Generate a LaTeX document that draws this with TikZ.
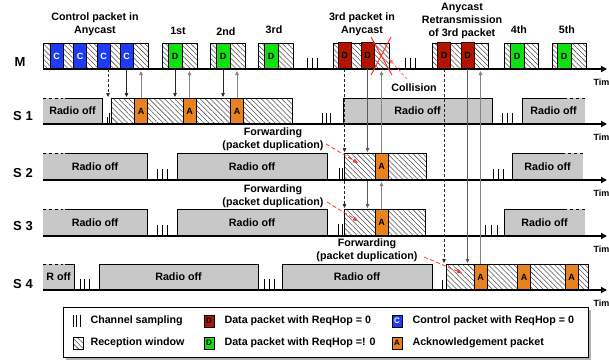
\documentclass[tikz,border=0pt]{standalone}
\usepackage{fontspec}
\setmainfont{Liberation Sans}
\usetikzlibrary{patterns.meta,arrows.meta}
\definecolor{offg}{HTML}{C8C8C8}
\definecolor{cblue}{HTML}{1E3CF5}
\definecolor{dgreen}{HTML}{12E012}
\definecolor{dred}{HTML}{B01500}
\definecolor{aorange}{HTML}{E8821E}
\definecolor{hatchc}{HTML}{505050}
\definecolor{upg}{HTML}{858585}
\definecolor{dngc}{HTML}{5A5A5A}
\definecolor{xred}{HTML}{FF3322}
\newcommand\offbox[6]{%
  \fill[offg] (#2,#4) rectangle (#3,#5);
  \draw[boxline] (#2,#5) -- (#2,#4) -- (#3,#4) -- (#3,#5);
  \node (#1) at ({(#2+#3)/2},{(#4+#5)/2}) {#6};}
\newcommand\offboxL[6]{%
  \fill[offg] (#2,#4) rectangle (#3,#5);
  \draw[boxline,dash pattern=on 3pt off 3pt] (#2,#4) -- (#2+20,#4);
  \draw[boxline] (#2+22,#4) -- (#3,#4) -- (#3,#5);
  \node (#1) at ({(#2+#3)/2},{(#4+#5)/2}) {#6};}
\newcommand\offboxR[6]{%
  \fill[offg] (#2,#4) rectangle (#3,#5);
  \draw[boxline] (#2,#5) -- (#2,#4) -- (#3-18,#4);
  \draw[boxline,dash pattern=on 3pt off 3pt] (#3-15,#4) -- (#3,#4);
  \node (#1) at ({(#2+#3)/2},{(#4+#5)/2}) {#6};}
\newcommand\chs[3]{\foreach \xx in {#1} {\draw[tk] (\xx,#2) -- (\xx,#3);}}
\begin{document}
\begin{tikzpicture}[x=1pt,y=-1pt,
  font=\bfseries\fontsize{10.7}{13}\selectfont,
  hatch/.style={draw=black, line width=0.6pt, pattern={Lines[angle=-45,distance=3.6pt,line width=0.55pt]}, pattern color=hatchc},
  boxline/.style={line width=0.7pt},
  base/.style={line width=1.6pt,-{Triangle[open,length=6pt,width=6pt]}},
  tk/.style={line width=0.7pt},
  pkt/.style={draw, line width=0.5pt, inner sep=0pt, outer sep=0pt, minimum height=26pt, font=\bfseries\fontsize{9}{9}\selectfont},
  cpk/.style={pkt, fill=cblue, text=white, minimum width=13pt},
  gpk/.style={pkt, fill=dgreen, minimum width=14pt},
  rpk/.style={pkt, fill=dred, draw=black!75!red, line width=1pt, minimum width=13pt, minimum height=27pt},
  apk/.style={pkt, fill=aorange, minimum width=13pt},
  blk/.style={line width=0.7pt,black!85,-{Triangle[length=4pt,width=3.5pt]}},
  dsh/.style={blk, dash pattern=on 3pt off 2pt},
  dnarr/.style={line width=0.8pt, dngc, -{Triangle[length=4pt,width=3.5pt]}},
  gry/.style={line width=0.8pt, upg, -{Triangle[length=4pt,width=3.5pt]}},
  fwd/.style={line width=0.8pt, xred, dash pattern=on 4pt off 2.5pt, -{Triangle[length=5pt,width=4pt]}},
  rowl/.style={font=\bfseries\fontsize{13}{14}\selectfont},
  timel/.style={anchor=west, font=\bfseries\fontsize{9}{10}\selectfont},
  icon/.style={draw, line width=0.5pt, inner sep=0pt, minimum width=10pt, minimum height=12pt, font=\bfseries\fontsize{8}{8}\selectfont},
]
\useasboundingbox (0,0) rectangle (609,362);

% ---------- row tops / bottoms as coordinates
\coordinate (mb) at (0,71);
\coordinate (s1t) at (0,97);
\coordinate (s2t) at (0,152);
\coordinate (s2b) at (0,182);
\coordinate (s3t) at (0,208);
\coordinate (s4t) at (0,263);

% ---------- labels above M
\node[align=center] (lctl) at (95,24.5) {Control packet in\\Anycast};
\node (l1st) at (178,31) {1st};
\node (l2nd) at (226,32) {2nd};
\node (l3rd) at (274,30) {3rd};
\node[align=center] (l3any) at (362,24.5) {3rd packet in\\Anycast};
\node[align=center] (lretr) at (462,20.5) {Anycast\\Retransmission\\of 3rd packet};
\node (l4th) at (519,30) {4th};
\node (l5th) at (567,30) {5th};

% ---------- row labels
\node[rowl] (rm) at (20,62) {M};
\node[rowl] (r1) at (23,116) {S 1};
\node[rowl] (r2) at (23,173) {S 2};
\node[rowl] (r3) at (23,226) {S 3};
\node[rowl] (r4) at (23,284) {S 4};

% ---------- M row
\draw[hatch] (43,43) rectangle (148,69);
\node[cpk] (c1) at (56.5,56) {C};
\node[cpk] (c2) at (80,56) {C};
\node[cpk] (c3) at (103.5,56) {C};
\node[cpk] (c4) at (126.5,56) {C};
\draw[hatch] (162,43) rectangle (197,69);
\node[gpk] (d1) at (175,56) {D};
\draw[hatch] (210,43) rectangle (245,69);
\node[gpk] (d2) at (223,56) {D};
\draw[hatch] (258,43) rectangle (293,69);
\node[gpk] (d3) at (271,56) {D};
\chs{307,312,317}{58}{69}
\draw[hatch] (333,43) rectangle (389,69);
\node[rpk] (r3a) at (344.5,55.5) {D};
\node[rpk] (r3b) at (367.5,55.5) {D};
\chs{405,410,415}{58}{69}
\draw[hatch] (432,43) rectangle (488,69);
\node[rpk] (r3c) at (444,55.5) {D};
\node[rpk] (r3d) at (467.5,55.5) {D};
\draw[hatch] (504,43) rectangle (538,69);
\node[gpk] (d4) at (517,56) {D};
\draw[hatch] (552,43) rectangle (586,69);
\node[gpk] (d5) at (564,56) {D};
\draw[base] (43,69) -- (607,69);
\node[timel] (t0) at (590,82) {Time};

% collision
\draw[xred, line width=1pt] (371,37) -- (392,75) (391,37) -- (371,75);
\node (coll) at (414,88) {Collision};
\coordinate (cs) at (407,79);
\coordinate (ce) at (389,59);
\draw[line width=0.8pt, xred!70, dash pattern=on 3pt off 2pt, -{Triangle[length=4.5pt,width=3.5pt]}] (cs) -- (ce);

% ---------- S1 row (98-124)
\offboxL{o11}{43}{102}{98}{124}{Radio off}
\chs{107}{117}{124}
\chs{109.5}{113}{124}
\draw[hatch] (111,98) rectangle (292,124);
\node[apk] (a11) at (141,111) {A};
\node[apk] (a12) at (189.5,111) {A};
\node[apk] (a13) at (237,111) {A};
\chs{322,326,330}{113}{124}
\offbox{o12}{343}{492}{98}{124}{Radio off}
\chs{502,507,512}{113}{124}
\offboxR{o13}{522}{585}{98}{124}{Radio off}
\draw[base] (43,124) -- (607,124);
\node[timel] (t1) at (590,137) {Time};

% ---------- S2 row (153-180)
\offboxL{o21}{43}{147}{153}{180}{Radio off}
\chs{157,162,167}{169}{180}
\offbox{o22}{177}{327}{153}{180}{Radio off}
\chs{339,342}{168}{180}
\draw[hatch] (344,153) rectangle (426,180);
\node[apk,minimum height=27pt] (a2) at (381.5,166.5) {A};
\chs{493,498,503}{169}{180}
\offboxR{o23}{512}{583}{153}{180}{Radio off}
\draw[base] (43,180) -- (607,180);
\node[timel] (t2) at (590,193) {Time};

% ---------- S3 row (209-236)
\offboxL{o31}{43}{147}{209}{236}{Radio off}
\chs{157,162,167}{225}{236}
\offbox{o32}{177}{327}{209}{236}{Radio off}
\chs{338,342}{224}{236}
\draw[hatch] (344,209) rectangle (425,236);
\node[apk,minimum height=27pt] (a3) at (381.5,222.5) {A};
\chs{485,491,497}{225}{236}
\offboxR{o33}{504}{585}{209}{236}{Radio off}
\draw[base] (43,236) -- (607,236);
\node[timel] (t3) at (590,249) {Time};

% ---------- S4 row (264-290)
\offboxL{o41}{43}{74}{264}{290}{R off}
\chs{80,84.5,89}{279}{290}
\offbox{o42}{99}{258}{264}{290}{Radio off}
\chs{264,269,274}{279}{290}
\offbox{o43}{282}{432}{264}{290}{Radio off}
\chs{442}{280}{290}
\draw[hatch] (446,264) rectangle (588,290);
\node[apk] (a41) at (480.5,277) {A};
\node[apk] (a42) at (524,277) {A};
\node[apk] (a43) at (571.5,277) {A};
\draw[base] (43,290) -- (607,290);
\node[timel] (t4) at (590,303) {Time};

% ---------- M <-> S1 exchanges
\coordinate (m108) at (108,69);
\draw[dsh] (m108) -- (m108 |- s1t);
\draw[blk] (c4.south) -- (c4.south |- s1t);
\draw[gry] (a11.north) -- (a11.north |- mb);
\draw[blk] (d1.south) -- (d1.south |- s1t);
\draw[gry] (a12.north) -- (a12.north |- mb);
\draw[blk] (d2.south) -- (d2.south |- s1t);
\draw[gry] (a13.north) -- (a13.north |- mb);

% ---------- 3rd packet in anycast
\coordinate (s2bb) at (0,181);
\draw[dsh] (r3a.south) -- (r3a.south |- s2t);
\draw[dsh] (r3a.south |- s2bb) -- (r3a.south |- s3t);
\draw[dnarr] (r3b.south) -- (r3b.south |- s2t);
\draw[dnarr] (r3b.south |- s2bb) -- (r3b.south |- s3t);
\draw[gry] (a2.north) -- (a2.north |- mb);
\draw[gry] (a3.north) -- (a3.north |- s2b);

% ---------- retransmission
\draw[dsh] (r3c.south) -- (r3c.south |- s4t);
\draw[dnarr] (r3d.south) -- (r3d.south |- s4t);
\draw[gry] (a41.north) -- (a41.north |- mb);

% ---------- forwarding labels
\node[align=center] (fw1) at (273,139.5) {Forwarding\\(packet duplication)};
\coordinate (f1s) at (326,144);
\coordinate (f1e) at (358,163);
\draw[fwd] (f1s) -- (f1e);
\node[align=center] (fw2) at (273,196) {Forwarding\\(packet duplication)};
\coordinate (f2s) at (327,202);
\coordinate (f2e) at (358,221);
\draw[fwd] (f2s) -- (f2e);
\node[align=center] (fw3) at (367,250.5) {Forwarding\\(packet duplication)};
\coordinate (f3s) at (424,257);
\coordinate (f3e) at (462,273);
\draw[fwd] (f3s) -- (f3e);

% ---------- legend
\fill[black!30] (66,310) rectangle (591,360);
\draw[fill=white, line width=0.6pt] (63,307) rectangle (588,357);
\chs{73,76.5,80}{315}{327}
\node[anchor=west] (lg1) at (87,321) {Channel sampling};
\draw[hatch] (73,337) rectangle (83,349);
\node[anchor=west] (lg2) at (87,343) {Reception window};
\node[icon, fill=dred] (ic1) at (209,321) {D};
\node[anchor=west] (lg3) at (221,321) {Data packet with ReqHop = 0};
\node[icon, fill=dgreen] (ic2) at (209,343) {D};
\node[anchor=west] (lg4) at (221,343) {Data packet with ReqHop =! 0};
\node[icon, fill=cblue, text=white] (ic3) at (397,321) {C};
\node[anchor=west] (lg5) at (409,321) {Control packet with ReqHop = 0};
\node[icon, fill=aorange] (ic4) at (397,343) {A};
\node[anchor=west] (lg6) at (409,343) {Acknowledgement packet};
\end{tikzpicture}
\end{document}
